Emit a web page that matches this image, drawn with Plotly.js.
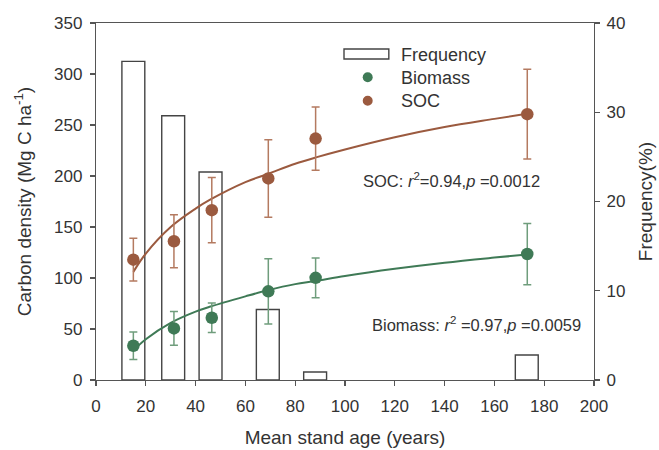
<!DOCTYPE html>
<html>
<head>
<meta charset="utf-8">
<script src="https://cdn.plot.ly/plotly-3.0.1.min.js"></script>
<style>html,body{margin:0;padding:0;background:#fff;}#chart{width:659px;height:450px;}</style>
</head>
<body>
<div id="chart"></div>
<script>
// Frequency bars (right axis, %)
const barAge = [15, 31, 46, 69, 88, 173];
const frequency = [35.7, 29.6, 23.3, 7.9, 0.9, 2.8];

// Carbon density points (left axis)
const pointAge = [15, 31.3, 46.5, 69.2, 88.2, 173.2];
const biomass = [33.6, 50.6, 61, 86.9, 100.2, 123.5];
const biomassErr = [13.5, 16.5, 14.5, 32, 19.5, 30];
const soc = [118, 136, 166.5, 197.6, 236.7, 260.6];
const socErr = [21, 26, 32, 38, 31, 44];

// Fitted curves
const curveAge = [15, 20, 30, 40, 46, 60, 69, 80, 88, 100, 120, 140, 160, 173];
const biomassCurve = [29, 40, 56, 67, 72, 82, 88, 94, 97, 102, 109, 115, 120, 123];
const socCurve = [106, 124, 150, 168, 177, 194, 202, 212, 218, 226, 238, 248, 256, 261];

// Tick values
const xTicks = [0, 20, 40, 60, 80, 100, 120, 140, 160, 180, 200];
const carbonTicks = [0, 50, 100, 150, 200, 250, 300, 350];
const freqTicks = [0, 10, 20, 30, 40];

const socColor = '#9b5a3f', socErrColor = '#b47a60';
const bioColor = '#3f7a56', bioErrColor = '#6f9d7c';
const font = 'Arial, "Liberation Sans", sans-serif';
const txt = '#333333';
const axisCol = '#555555';

const traces = [
  {type: 'bar', x: barAge, y: frequency, width: 9.2, xaxis: 'x', yaxis: 'y',
   marker: {color: '#ffffff', line: {color: '#444444', width: 1.4}}, showlegend: false},
  {type: 'scatter', mode: 'lines', x: curveAge, y: socCurve, xaxis: 'x', yaxis: 'y2',
   line: {color: socColor, width: 2, shape: 'spline'}, showlegend: false},
  {type: 'scatter', mode: 'lines', x: curveAge, y: biomassCurve, xaxis: 'x', yaxis: 'y2',
   line: {color: bioColor, width: 2, shape: 'spline'}, showlegend: false},
  {type: 'scatter', mode: 'markers', x: pointAge, y: soc, xaxis: 'x', yaxis: 'y2',
   error_y: {type: 'data', array: socErr, visible: true, color: socErrColor, thickness: 1.5, width: 4},
   marker: {color: socColor, size: 12.5}, showlegend: false},
  {type: 'scatter', mode: 'markers', x: pointAge, y: biomass, xaxis: 'x', yaxis: 'y2',
   error_y: {type: 'data', array: biomassErr, visible: true, color: bioErrColor, thickness: 1.5, width: 4},
   marker: {color: bioColor, size: 12.5}, showlegend: false}
];

const axisBase = {showgrid: false, zeroline: false, showline: true, linecolor: axisCol, linewidth: 1.2,
  ticks: 'outside', ticklen: 5, tickcolor: axisCol, tickwidth: 1.2,
  tickfont: {family: font, size: 17, color: txt}};

const layout = {
  width: 659, height: 450,
  margin: {l: 96, r: 65, t: 23, b: 70},
  paper_bgcolor: '#ffffff', plot_bgcolor: '#ffffff',
  showlegend: false,
  bargap: 0,
  xaxis: Object.assign({}, axisBase, {range: [0, 200], tickvals: xTicks, mirror: true, ticklabelstandoff: 5,
    title: {text: 'Mean stand age (years)', font: {family: font, size: 19, color: txt}, standoff: 16}}),
  yaxis: Object.assign({}, axisBase, {range: [0, 40], tickvals: freqTicks, side: 'right', ticklabelstandoff: 3,
    title: {text: 'Frequency(%)', font: {family: font, size: 19, color: txt}, standoff: 14}}),
  yaxis2: Object.assign({}, axisBase, {range: [0, 350], tickvals: carbonTicks, side: 'left', overlaying: 'y', ticklabelstandoff: 4,
    title: {text: 'Carbon density (Mg C ha<sup>-1</sup>)', font: {family: font, size: 19, color: txt}, standoff: 17}}),
  shapes: [
    {type: 'rect', xref: 'paper', yref: 'paper', x0: 0.498, x1: 0.588, y0: 0.899, y1: 0.927,
     line: {color: '#444444', width: 1.4}, fillcolor: '#ffffff'},
    {type: 'circle', xref: 'paper', yref: 'paper', x0: 0.5356, x1: 0.5556, y0: 0.834, y1: 0.862,
     line: {width: 0}, fillcolor: bioColor},
    {type: 'circle', xref: 'paper', yref: 'paper', x0: 0.5356, x1: 0.5556, y0: 0.768, y1: 0.796,
     line: {width: 0}, fillcolor: socColor}
  ],
  annotations: [
    {xref: 'paper', yref: 'paper', x: 0.608, y: 0.910, xanchor: 'left', yanchor: 'middle', showarrow: false,
     text: 'Frequency', font: {family: font, size: 18, color: txt}},
    {xref: 'paper', yref: 'paper', x: 0.608, y: 0.847, xanchor: 'left', yanchor: 'middle', showarrow: false,
     text: 'Biomass', font: {family: font, size: 18, color: txt}},
    {xref: 'paper', yref: 'paper', x: 0.608, y: 0.782, xanchor: 'left', yanchor: 'middle', showarrow: false,
     text: 'SOC', font: {family: font, size: 18, color: txt}},
    {xref: 'x', yref: 'y2', x: 106.5, y: 196, xanchor: 'left', yanchor: 'middle', showarrow: false,
     text: 'SOC: <i>r</i><sup>2</sup>=0.94,<i>p</i> =0.0012', font: {family: font, size: 16.5, color: txt}},
    {xref: 'x', yref: 'y2', x: 110, y: 55, xanchor: 'left', yanchor: 'middle', showarrow: false,
     text: 'Biomass: <i>r</i><sup>2</sup> =0.97,<i>p</i> =0.0059', font: {family: font, size: 16.5, color: txt}}
  ]
};

Plotly.newPlot('chart', traces, layout, {staticPlot: true, displayModeBar: false});
</script>
</body>
</html>
